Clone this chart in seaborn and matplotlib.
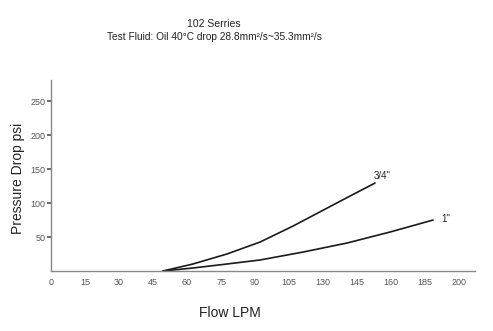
import matplotlib
matplotlib.use("Agg")
import matplotlib.pyplot as plt
import seaborn as sns
import pandas as pd
import numpy as np

sns.set_theme(style="white")
plt.rcParams['font.family'] = ['Liberation Sans', 'DejaVu Sans']

# tick labels on the flow axis (evenly spaced, as printed)
x_tick_labels = ["0", "15", "30", "45", "60", "75", "90", "105", "130", "145", "160", "185", "200"]
y_ticks = [50, 100, 150, 200, 250]

# curve values (flow in axis units, pressure drop psi)
flow_34 = [49.4, 62.6, 77.6, 92.2, 106.8, 121.8, 131.9, 142.9]
dp_34 = [0, 10.3, 25, 42.6, 66.2, 92.6, 110.3, 129.4]
flow_1 = [49.4, 62.6, 77.6, 92.2, 111.2, 130.6, 149.6, 168.5]
dp_1 = [0, 4.4, 10.3, 16.2, 27.9, 41.2, 57.4, 75]

df = pd.concat([
    pd.DataFrame({"flow": flow_34, "dp": dp_34, "size": '3/4"'}),
    pd.DataFrame({"flow": flow_1, "dp": dp_1, "size": '1"'}),
])

fig = plt.figure(figsize=(4.93, 3.31), dpi=100)
ax = fig.add_axes([51/493, 1-271/331, (475-51)/493, (271-80)/331])

sns.lineplot(data=df, x="flow", y="dp", hue="size", palette=["#1a1a1a", "#1a1a1a"],
             legend=False, ax=ax, linewidth=1.2)

ax.set_xlim(0, 187)
ax.set_ylim(0, 281)
ax.set_xticks(np.arange(len(x_tick_labels)) * 15)
ax.set_xticklabels(x_tick_labels)
ax.set_yticks(y_ticks)
ax.tick_params(axis="x", direction="in", length=3, labelsize=6.5, colors="#555555", pad=5)
ax.tick_params(axis="y", direction="out", length=3, labelsize=6.5, colors="#555555", pad=1, left=True)
for s in ["top", "right"]:
    ax.spines[s].set_visible(False)
for s in ["left", "bottom"]:
    ax.spines[s].set_color("#888888")
    ax.spines[s].set_linewidth(1.0)

ax.set_xlabel("Flow LPM", fontsize=10, color="#222222")
ax.xaxis.set_label_coords((230-51)/(475-51), -(313-271)/(271-80))
ax.xaxis.label.set_va("center")
ax.set_ylabel("Pressure Drop psi", fontsize=10, color="#222222")
ax.yaxis.set_label_coords(-(51-18)/(475-51), (271-178)/(271-80))
ax.yaxis.label.set_va("center")

ax.text(flow_34[-1] - 0.5, dp_34[-1] + 3, '3/4"', fontsize=7, color="#222222", ha="left", va="bottom")
ax.text(flow_1[-1] + 3.5, dp_1[-1] + 1, '1"', fontsize=7, color="#222222", ha="left", va="center")

fig.text(214/493, 1-24/331, "102 Serries", fontsize=7.5, ha="center", va="center", color="#222222")
fig.text(214/493, 1-37/331, "Test Fluid: Oil 40°C drop 28.8mm²/s~35.3mm²/s", fontsize=7.3,
         ha="center", va="center", color="#222222")

fig.savefig("out.png", dpi=100)
